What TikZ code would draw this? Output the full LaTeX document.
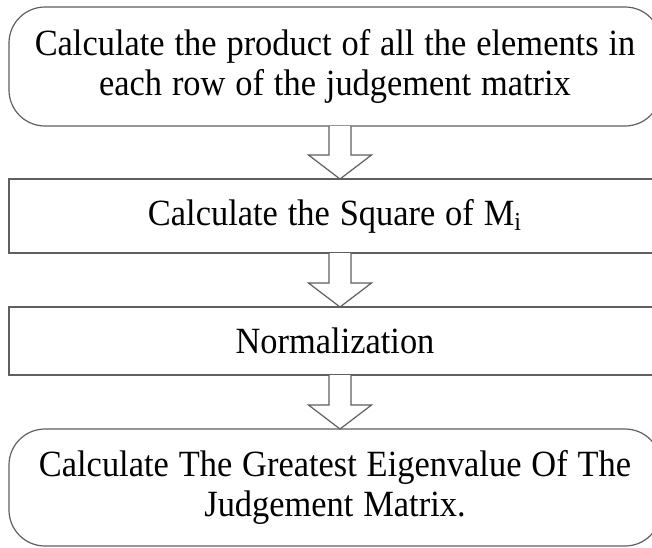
\documentclass[tikz,border=0pt]{standalone}
\usepackage{fontspec}
\setmainfont{Liberation Serif}[FakeStretch=0.93,WordSpace=1.15]
\usetikzlibrary{positioning,calc}
\definecolor{boxline}{HTML}{5F5F5F}
\tikzset{
    every picture/.style={line join=miter},
    stepbox/.style={draw=boxline,fill=white,line width=0.6pt,
      minimum width=326pt,inner sep=0pt,outer sep=0pt,
      align=center,font=\fontsize{18.5}{20}\selectfont},
    roundbox/.style={stepbox,rounded corners=18pt},
    hollowarrow/.style={draw=boxline,fill=white,line width=0.6pt}
}
% hollow block arrow from the bottom of #1 to the top of #2
\newcommand{\blockarrow}[2]{%
  \coordinate (from) at ([xshift=2.5pt]#1.south);
  \coordinate (tip) at ([xshift=2.5pt]#2.north);
  \draw[hollowarrow] ([xshift=-5.5pt]from) -- ([xshift=-5.5pt,yshift=12pt]tip)
    -- ([xshift=-15.75pt,yshift=12pt]tip) -- (tip)
    -- ([xshift=15.75pt,yshift=12pt]tip) -- ([xshift=5.5pt,yshift=12pt]tip)
    -- ([xshift=5.5pt]from);
}

\begin{document}
\begin{tikzpicture}
  \clip (0,0) rectangle (326pt,-273.5pt);
  \fill[white] (0,0) rectangle (326pt,-273.5pt);
  \node[roundbox,minimum height=59.5pt] (product) at (167.5pt,-33.25pt)
    {Calculate the product of all the elements in\\each row of the judgement matrix};
  \node[stepbox,minimum height=37pt,below=26.5pt of product] (square)
    {Calculate the Square of M\textsubscript{i}};
  \node[stepbox,minimum height=34pt,below=27pt of square] (norm) {Normalization};
  \node[roundbox,minimum height=58.5pt,below=27pt of norm] (eigen)
    {Calculate The Greatest Eigenvalue Of The\\Judgement Matrix.};
  \blockarrow{product}{square}
  \blockarrow{square}{norm}
  \blockarrow{norm}{eigen}
\end{tikzpicture}
\end{document}
